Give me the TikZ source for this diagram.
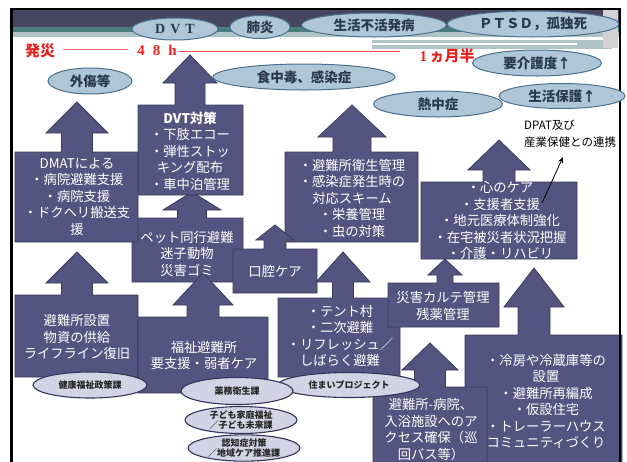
\documentclass[tikz,border=0pt]{standalone}
\usepackage{fontspec}
\setmainfont{Noto Sans CJK JP}
\newfontfamily\latserif{Liberation Serif}
\usetikzlibrary{shapes.geometric,arrows.meta}
\definecolor{boxfill}{HTML}{545480}
\definecolor{boxline}{HTML}{3A3A5C}
\definecolor{ellfill}{HTML}{AFC6D6}
\definecolor{ellline}{HTML}{4A7090}
\definecolor{elltext}{HTML}{2B3A4B}
\definecolor{deptfill}{HTML}{D3D3E6}
\definecolor{deptline}{HTML}{34345A}
\definecolor{bandDark}{HTML}{46465E}
\definecolor{bandTeal}{HTML}{4B7D7D}
\definecolor{bandLight}{HTML}{AFC5C5}
\definecolor{redtext}{HTML}{E8231E}
\newcommand{\upbox}[9]{%
  \path[boxshape] (#1,#2) -- (#5-#9,#2) -- (#5-#9,#7) -- (#5-#8,#7) -- (#5,#6) -- (#5+#8,#7) -- (#5+#9,#7) -- (#5+#9,#2) -- (#3,#2) -- (#3,#4) -- (#1,#4) -- cycle;}
\begin{document}
\begin{tikzpicture}[x=1pt,y=-1pt,
  boxshape/.style={fill=boxfill,draw=boxline,line width=0.8pt,line join=miter},
  boxtext/.style={text=white,font=\fontsize{13.3}{16.5}\selectfont,align=center,inner sep=0pt},
  ell/.style={ellipse,fill=ellfill,draw=ellline,line width=1pt,inner sep=0pt,text=elltext,font=\bfseries\fontsize{13.5}{15}\selectfont},
  dept/.style={ellipse,fill=deptfill,draw=deptline,line width=1.1pt,inner sep=0pt,text=black!85,align=center,font=\bfseries\fontsize{9}{10}\selectfont},
  redlbl/.style={text=redtext,inner sep=0pt,font=\bfseries\fontsize{15}{16}\selectfont}]
\useasboundingbox (0,0) rectangle (627,461);
\clip (0,0) rectangle (627,461);
\fill[white] (0,0) rectangle (627,461);
% banner
\fill[bandDark] (12,9) rectangle (619,27);
\fill[bandTeal] (12,27) rectangle (619,32);
\fill[bandLight] (12,32) rectangle (619,37);
\fill[bandLight] (372,40) rectangle (612,49);
\fill[white] (372,42.5) rectangle (577,44.5);
\fill[gray!35] (603,10) rectangle (618,48);
% red timeline
\draw[red!55,line width=0.8pt] (63,49) -- (128,49);
\draw[red!70,line width=0.8pt] (179,51) -- (400,51);
\node[redlbl] (hassai) at (40,51) {発災};
\node[redlbl,font=\latserif\bfseries\fontsize{15}{16}\selectfont] (h48) at (157,50) {4\hspace{8pt}8\hspace{8pt}h};
\node[redlbl] (month) at (447,56) {{\latserif 1}\,ヵ月半};
% arrow boxes
\upbox{132}{218}{243}{282}{192}{192}{210}{29}{14.5}
\upbox{138}{105}{243}{195}{190}{55}{83}{27}{15}
\upbox{15}{152}{138}{242}{77}{102}{133}{31}{15.5}
\upbox{285}{152}{418}{242}{352}{105}{137}{34}{19}
\upbox{233}{249}{317}{293}{275}{225}{240}{19}{11}
\upbox{421}{182}{577}{259}{499}{140}{170}{31}{16}
\upbox{15}{295}{138}{377}{77}{252}{283}{31}{15.5}
\upbox{138}{317}{268}{393}{203}{273}{305}{30}{16}
\upbox{278}{298}{400}{377}{343}{252}{282}{27}{10.5}
\upbox{388}{283}{499}{327}{445}{259}{275}{17}{8}
\upbox{465}{335}{622}{470}{534}{268}{307}{30}{16}
\upbox{373}{387}{487}{470}{430}{343}{370}{28}{15.5}
% box texts
\node[boxtext] (tDVT) at (190,151) {\textbf{DVT対策}\\・下肢エコー\\・弾性ストッ\\キング配布\\・車中泊管理};
\node[boxtext] (tDMAT) at (77,196.5) {DMATによる\\・病院避難支援\\・病院支援\\・ドクヘリ搬送支\\援};
\node[boxtext] (tEisei) at (352,198) {・避難所衛生管理\\・感染症発生時の\\対応スキーム\\・栄養管理\\・虫の対策};
\node[boxtext] (tPet) at (187,253.5) {ペット同行避難\\迷子動物\\災害ゴミ};
\node[boxtext] (tKoku) at (275,271) {口腔ケア};
\node[boxtext] (tKokoro) at (500,220.5) {・心のケア\\・支援者支援\\・地元医療体制強化\\・在宅被災者状況把握\\・介護・リハビリ};
\node[boxtext] (tSecchi) at (77,337) {避難所設置\\物資の供給\\ライフライン復旧};
\node[boxtext] (tFukushi) at (204,355.5) {福祉避難所\\要支援・弱者ケア};
\node[boxtext] (tTent) at (340,336) {・テント村\\・二次避難\\・リフレッシュ／\\しばらく避難};
\node[boxtext] (tKarte) at (443,306) {災害カルテ管理\\残薬管理};
\node[boxtext] (tReibo) at (546,401.5) {・冷房や冷蔵庫等の\\設置\\・避難所再編成\\・仮設住宅\\・トレーラーハウス\\コミュニティづくり};
\node[boxtext] (tAccess) at (431,429.5) {避難所-病院、\\入浴施設へのア\\クセス確保（巡\\回バス等）};
% DPAT label
\node[inner sep=0pt,anchor=west,align=left,font=\fontsize{11.5}{17}\selectfont] (dpat) at (524,133.5) {DPAT及び\\産業保健との連携};
\coordinate (dpatA) at (542,203);
\coordinate (dpatB) at (563,157);
\draw[-{Stealth[length=6pt,width=5pt]},line width=0.8pt] (dpatA) -- (dpatB);
% top ellipses
\node[ell,minimum width=86pt,minimum height=22pt,font=\latserif\bfseries\fontsize{14}{15}\selectfont] (eDVT) at (175,29) {D\hspace{5pt}V\hspace{5pt}T};
\node[ell,minimum width=60pt,minimum height=23pt] (eHaien) at (260,27) {肺炎};
\node[ell,minimum width=145pt,minimum height=24pt] (eFukappatsu) at (374,25) {生活不活発病};
\node[ell,minimum width=172pt,minimum height=26pt] (ePTSD) at (533,24) {ＰＴＳＤ，孤独死};
\node[ell,minimum width=84pt,minimum height=26pt] (eGaisho) at (90,81) {外傷等};
\node[ell,minimum width=182pt,minimum height=26pt] (eShoku) at (304,77) {食中毒、感染症};
\node[ell,minimum width=129pt,minimum height=26pt] (eKaigo) at (537,63) {要介護度↑};
\node[ell,minimum width=129pt,minimum height=26pt] (eNetchu) at (438,104) {熱中症};
% departments
\node[dept,minimum width=114pt,minimum height=26pt] (dKenko) at (90,385) {健康福祉政策課};
\node[dept,minimum width=142pt,minimum height=25pt] (dSumai) at (349,385) {住まいプロジェクト};
\node[dept,minimum width=112pt,minimum height=27pt] (dYakumu) at (237,391) {薬務衛生課};
\node[dept,minimum width=112pt,minimum height=27pt] (dKodomo) at (241,420) {子ども家庭福祉\\／子ども未来課};
\node[dept,minimum width=112pt,minimum height=26pt] (dNinchi) at (244,448) {認知症対策\\／地域ケア推進課};
% frame
\draw[line width=2.5pt] (11.5,480) -- (11.5,9) -- (620,9) -- (620,480);
\node[ell,minimum width=126pt,minimum height=25pt] (eHogo) at (562,96) {生活保護↑};
\end{tikzpicture}
\end{document}
